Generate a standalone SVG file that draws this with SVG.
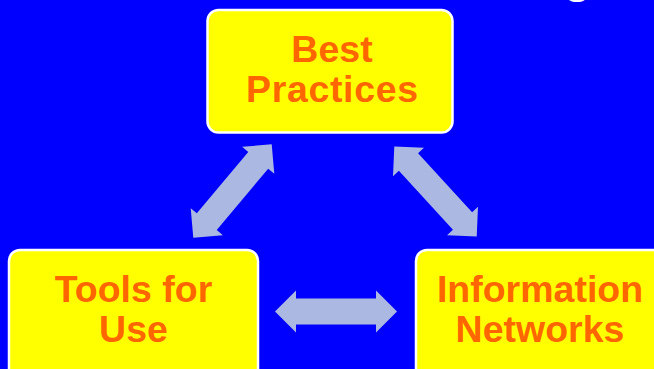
<svg xmlns="http://www.w3.org/2000/svg" width="654" height="369" viewBox="0 0 654 369">
<style>
.box{fill:#FFFF00;stroke:#FFFFFF;stroke-width:2.5}
.lbl{font-family:"Liberation Sans",Arial,Helvetica,sans-serif;font-weight:bold;font-size:37.5px;fill:#FF6600;text-anchor:middle}
.arr{fill:#AAB8E2}
</style>
<defs>
<polygon id="dbl" points="-61,0 -40,-21 -40,-13 40,-13 40,-21 61,0 40,21 40,13 -40,13 -40,21"/>
</defs>
<rect x="0" y="0" width="654" height="369" fill="#0000FF"/>
<text x="564" y="-7.5" font-family="Liberation Sans,Arial,sans-serif" font-weight="bold" font-size="44" fill="#FFFFFF">g</text>
<g id="connectors" class="arr">
<use href="#dbl" transform="translate(232.5,191) rotate(-50)"/>
<use href="#dbl" transform="translate(435.5,191.5) rotate(47.5)"/>
<use href="#dbl" transform="translate(336,311.5)"/>
</g>
<g id="best-practices">
<rect class="box" x="207.5" y="10" width="245" height="122.5" rx="11"/>
<text class="lbl" x="332" y="62">Best</text>
<text class="lbl" x="332" y="102" textLength="172">Practices</text>
</g>
<g id="tools-for-use">
<rect class="box" x="9" y="250" width="249" height="135" rx="11"/>
<text class="lbl" x="133.5" y="302">Tools for</text>
<text class="lbl" x="133.5" y="342">Use</text>
</g>
<g id="information-networks">
<rect class="box" x="416" y="250" width="260" height="135" rx="11"/>
<text class="lbl" x="540" y="302">Information</text>
<text class="lbl" x="540" y="342">Networks</text>
</g>
</svg>
